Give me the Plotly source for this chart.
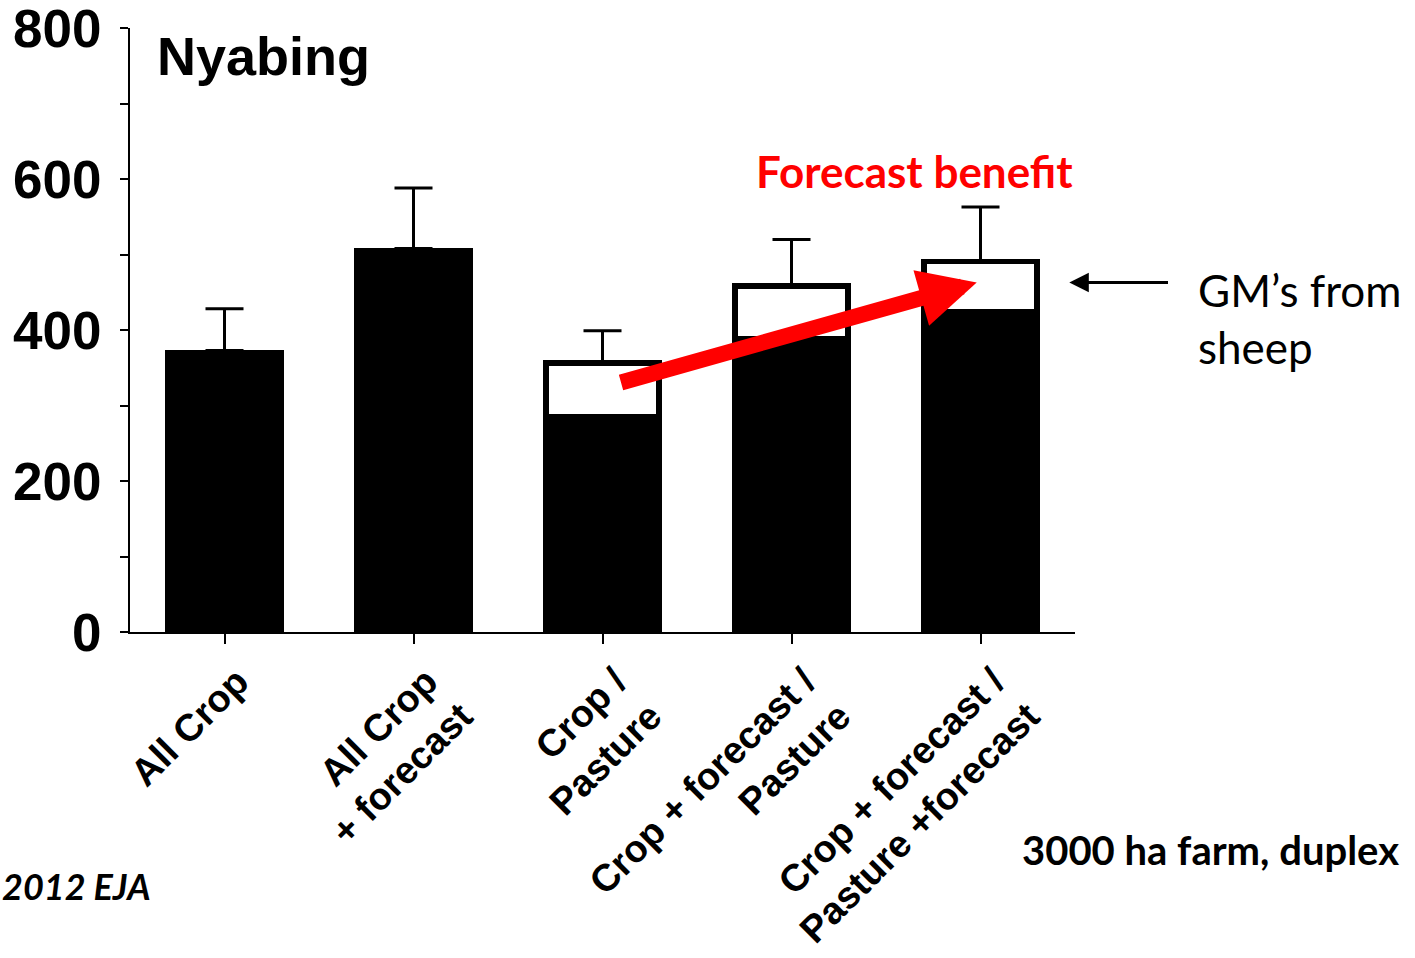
import plotly.graph_objects as go

categories = ["All Crop", "All Crop<br>+ forecast", "Crop /<br>Pasture",
              "Crop + forecast /<br>Pasture", "Crop + forecast /<br>Pasture +forecast"]
crop_gm = [373, 508, 285, 388, 424]
sheep_cats = categories[2:]
sheep_gm = [71, 70, 67]
error_up = [55, 80, 43, 62, 72]
y_ticks = [0, 200, 400, 600, 800]

totals = crop_gm[:2] + [c + s for c, s in zip(crop_gm[2:], sheep_gm)]

L, R, T, B = 130, 340, 28, 326
W, H = 1415, 958
PW, PH = W - L - R, H - T - B


def px(x):
    return (x - L) / PW


def py(y):
    return 1 - (y - T) / PH


fig = go.Figure()
fig.add_trace(go.Bar(x=categories, y=crop_gm, width=0.63,
                     marker=dict(color="black", line=dict(width=0)), showlegend=False))
fig.add_trace(go.Bar(x=sheep_cats, y=sheep_gm, width=0.6,
                     marker=dict(color="white", line=dict(color="black", width=5.5)), showlegend=False))
fig.add_trace(go.Scatter(x=categories, y=totals, mode="markers",
                         marker=dict(size=1, opacity=0),
                         error_y=dict(type="data", array=error_up, arrayminus=[0]*5, symmetric=False,
                                      color="black", thickness=3, width=19),
                         showlegend=False, hoverinfo="skip"))

fig.update_layout(
    width=W, height=H,
    margin=dict(l=L, r=R, t=T, b=B),
    barmode="stack",
    plot_bgcolor="white", paper_bgcolor="white",
    font=dict(family="Liberation Sans, Arial", color="black"),
    xaxis=dict(range=[-0.5, 4.5], showline=True, linecolor="black", linewidth=2,
               ticks="outside", ticklen=10, tickwidth=2, tickcolor="black",
               tickangle=-45, automargin=False, ticklabelshift=13, ticklabeloverflow="allow",
               tickfont=dict(size=38, family="Liberation Sans, Arial", weight="bold"),
               showgrid=False, zeroline=False),
    yaxis=dict(range=[0, 800], tickvals=y_ticks, showline=True, linecolor="black", linewidth=2,
               ticks="outside", ticklen=8, tickwidth=1.5, tickcolor="black", automargin=False,
               tickfont=dict(size=53, family="Liberation Sans, Arial", weight="bold"),
               ticklabelstandoff=8, ticklabeloverflow="allow",
               minor=dict(dtick=100, ticks="outside", ticklen=8, tickwidth=1.5, tickcolor="black"),
               showgrid=False, zeroline=False),
)

# title inside
fig.add_annotation(text="<b>Nyabing</b>", xref="paper", yref="paper", x=px(155), y=py(24),
                   xanchor="left", yanchor="top", showarrow=False,
                   font=dict(size=54, family="Liberation Sans, Arial", color="black"))
# forecast benefit
fig.add_annotation(text="<b>Forecast benefit</b>", xref="x", yref="y", x=3.65, y=610,
                   xanchor="center", yanchor="middle", showarrow=False,
                   font=dict(size=44, family="Lato", color="#ff0000"))
# red arrow
fig.add_annotation(x=3.98, y=463, ax=2.09, ay=330, xref="x", yref="y", axref="x", ayref="y",
                   showarrow=True, arrowhead=2, arrowsize=0.72, arrowwidth=16, arrowcolor="#ff0000",
                   text="")
# black arrow
fig.add_annotation(x=4.47, y=463, ax=5.0, ay=463, xref="x", yref="y", axref="x", ayref="y",
                   showarrow=True, arrowhead=2, arrowsize=1.3, arrowwidth=3, arrowcolor="black",
                   text="")
fig.add_annotation(text="GM\u2019s from<br>sheep", xref="paper", yref="paper",
                   x=px(1196), y=py(262), xanchor="left", yanchor="top",
                   align="left", showarrow=False,
                   font=dict(size=44, family="Lato", color="black"))
fig.add_annotation(text="<b>3000 ha farm, duplex</b>", xref="paper", yref="paper",
                   x=px(1020), y=py(850), xanchor="left", yanchor="middle",
                   showarrow=False, font=dict(size=40, family="Lato", color="black"))
fig.add_annotation(text="<b><i>2012 EJA</i></b>", xref="paper", yref="paper",
                   x=px(0), y=py(886), xanchor="left", yanchor="middle",
                   showarrow=False, font=dict(size=36, family="Lato", color="black"))

fig.write_html("out.html", config={"displayModeBar": False},
               post_script="document.body.style.margin='0';document.body.style.overflow='hidden';")
